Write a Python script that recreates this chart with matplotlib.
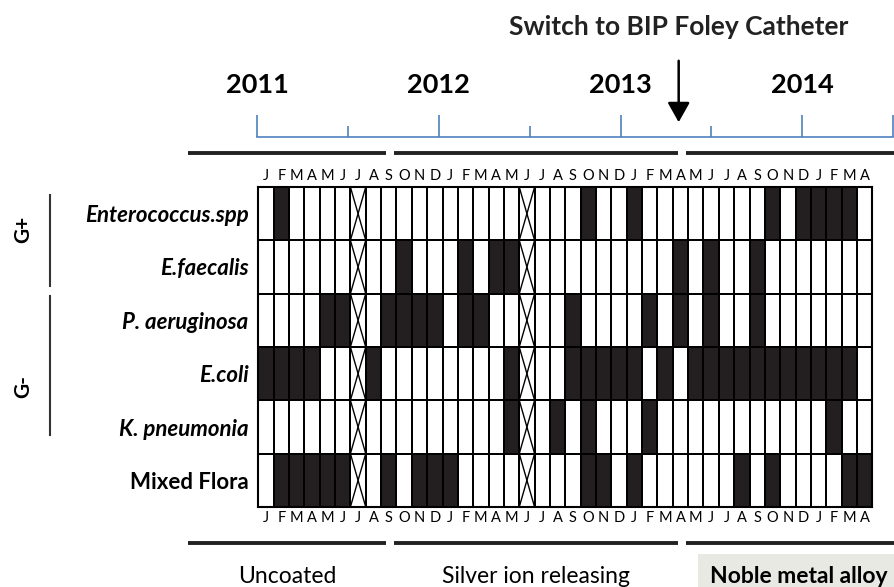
import numpy as np
import matplotlib.pyplot as plt
from matplotlib.colors import ListedColormap

plt.rcParams['font.family'] = ['Lato', 'DejaVu Sans']

# months Jan 2011 .. Apr 2014
months = list("JFMAMJJASOND") * 3 + list("JFMA")
organisms = ['Enterococcus.spp', 'E.faecalis', 'P. aeruginosa', 'E.coli', 'K. pneumonia', 'Mixed Flora']

# month index (0 = Jan 2011) of positive cultures
enterococcus = [1, 21, 24, 33, 35, 36, 37, 38]
e_faecalis = [9, 13, 15, 16, 27, 29, 32]
p_aeruginosa = [4, 5, 8, 9, 10, 11, 13, 14, 20, 25, 27, 29, 32]
e_coli = [0, 1, 2, 3, 7, 16, 20, 21, 22, 23, 24, 26, 28, 29, 30, 31, 32, 33, 34, 35, 36, 37, 38]
k_pneumonia = [16, 19, 21, 25, 37]
mixed_flora = [1, 2, 3, 4, 5, 8, 10, 11, 12, 21, 22, 24, 31, 33, 38, 39]
no_data = [6, 17]

years = [2011, 2012, 2013, 2014]
switch_date = 2013.32
periods = ['Uncoated', 'Silver ion releasing', 'Noble metal alloy']
period_edges = [-4.8, 8.6, 27.6, 42.8]

positives = [enterococcus, e_faecalis, p_aeruginosa, e_coli, k_pneumonia, mixed_flora]
grid = np.zeros((len(organisms), len(months)))
for r, pos in enumerate(positives):
    grid[r, pos] = 1

W, H = 895, 587
fig = plt.figure(figsize=(W / 100, H / 100), dpi=100)

# ---- main grid ----
ax = fig.add_axes([258.3 / W, 1 - 507 / H, 614 / W, 320 / H])
ax.pcolormesh(np.arange(len(months) + 1), np.arange(len(organisms) + 1), grid,
              cmap=ListedColormap(['white', '#231f20']), edgecolors='black', linewidth=1.2)
for c in no_data:
    for r in range(len(organisms)):
        ax.plot([c, c + 1], [r, r + 1], color='black', lw=1)
        ax.plot([c, c + 1], [r + 1, r], color='black', lw=1)
ax.set_xlim(0, len(months))
ax.set_ylim(len(organisms), 0)
for s in ax.spines.values():
    s.set_linewidth(1.5)

ax.set_xticks(np.arange(len(months)) + 0.5)
ax.set_xticklabels(months, fontsize=10.5)
ax.tick_params(axis='x', length=0, top=False, labeltop=True, pad=3)
ax.set_yticks(np.arange(len(organisms)) + 0.5)
ax.set_yticklabels(organisms, fontsize=16, fontweight='bold')
ax.tick_params(axis='y', length=0, pad=7)
for lab in ax.get_yticklabels()[:-1]:
    lab.set_style('italic')

# gram groups
ax.plot([-13.6, -13.6], [0.15, 1.85], color='#333333', lw=1.5, clip_on=False)
ax.plot([-13.6, -13.6], [2.05, 4.65], color='#333333', lw=1.5, clip_on=False)
ax.text(-15.3, 0.8, 'G+', rotation=90, ha='center', va='center', fontsize=15, fontweight='bold')
ax.text(-15.3, 3.75, 'G-', rotation=90, ha='center', va='center', fontsize=15, fontweight='bold')

# period bars and labels
gap = 0.25
for i, name in enumerate(periods):
    x0, x1 = period_edges[i] + gap, period_edges[i + 1] - gap
    for yy in (-0.64, 6.68):
        ax.plot([x0, x1], [yy, yy], color='#222222', lw=2.8, clip_on=False,
                solid_capstyle='butt')
    xc = (period_edges[i] + period_edges[i + 1]) / 2
    if i == len(periods) - 1:
        ax.text(xc, 7.3, name, ha='center', va='center', fontsize=16.5, fontweight='bold',
                bbox=dict(boxstyle='square,pad=0.5', fc='#e9e9e4', ec='none'))
    else:
        ax.text(xc, 7.3, name, ha='center', va='center', fontsize=16.5)

# ---- timeline ----
tl = fig.add_axes([257.3 / W, 1 - 137 / H, (893 - 257.3) / W, 137 / H])
tl.patch.set_visible(False)
tl.set_xlim(years[0], years[-1] + 0.5)
tl.set_ylim(137, 0)
for k in ('top', 'left', 'right'):
    tl.spines[k].set_visible(False)
tl.spines['bottom'].set_color('#4f81bd')
tl.spines['bottom'].set_linewidth(1.2)
tl.set_xticks(years + [years[-1] + 0.5])
tl.set_xticks([y + 0.5 for y in years[:-1]], minor=True)
tl.tick_params(axis='x', which='major', direction='in', length=16, width=1.2,
               color='#4f81bd', labelbottom=False)
tl.tick_params(axis='x', which='minor', direction='in', length=8, width=1.2,
               color='#4f81bd', labelbottom=False)
tl.set_yticks([])
for y in years:
    tl.text(y, 85, str(y), ha='center', va='center', fontsize=19.5, fontweight='bold')
tl.text(switch_date, 27, 'Switch to BIP Foley Catheter', ha='center', va='center',
        fontsize=19, fontweight='bold', color='#222222')
tl.annotate('', xy=(switch_date, 125), xytext=(switch_date, 58),
            arrowprops=dict(arrowstyle='-|>,head_length=0.8,head_width=0.45',
                            color='black', lw=1.8, mutation_scale=15))

fig.savefig('out.png', dpi=100)
